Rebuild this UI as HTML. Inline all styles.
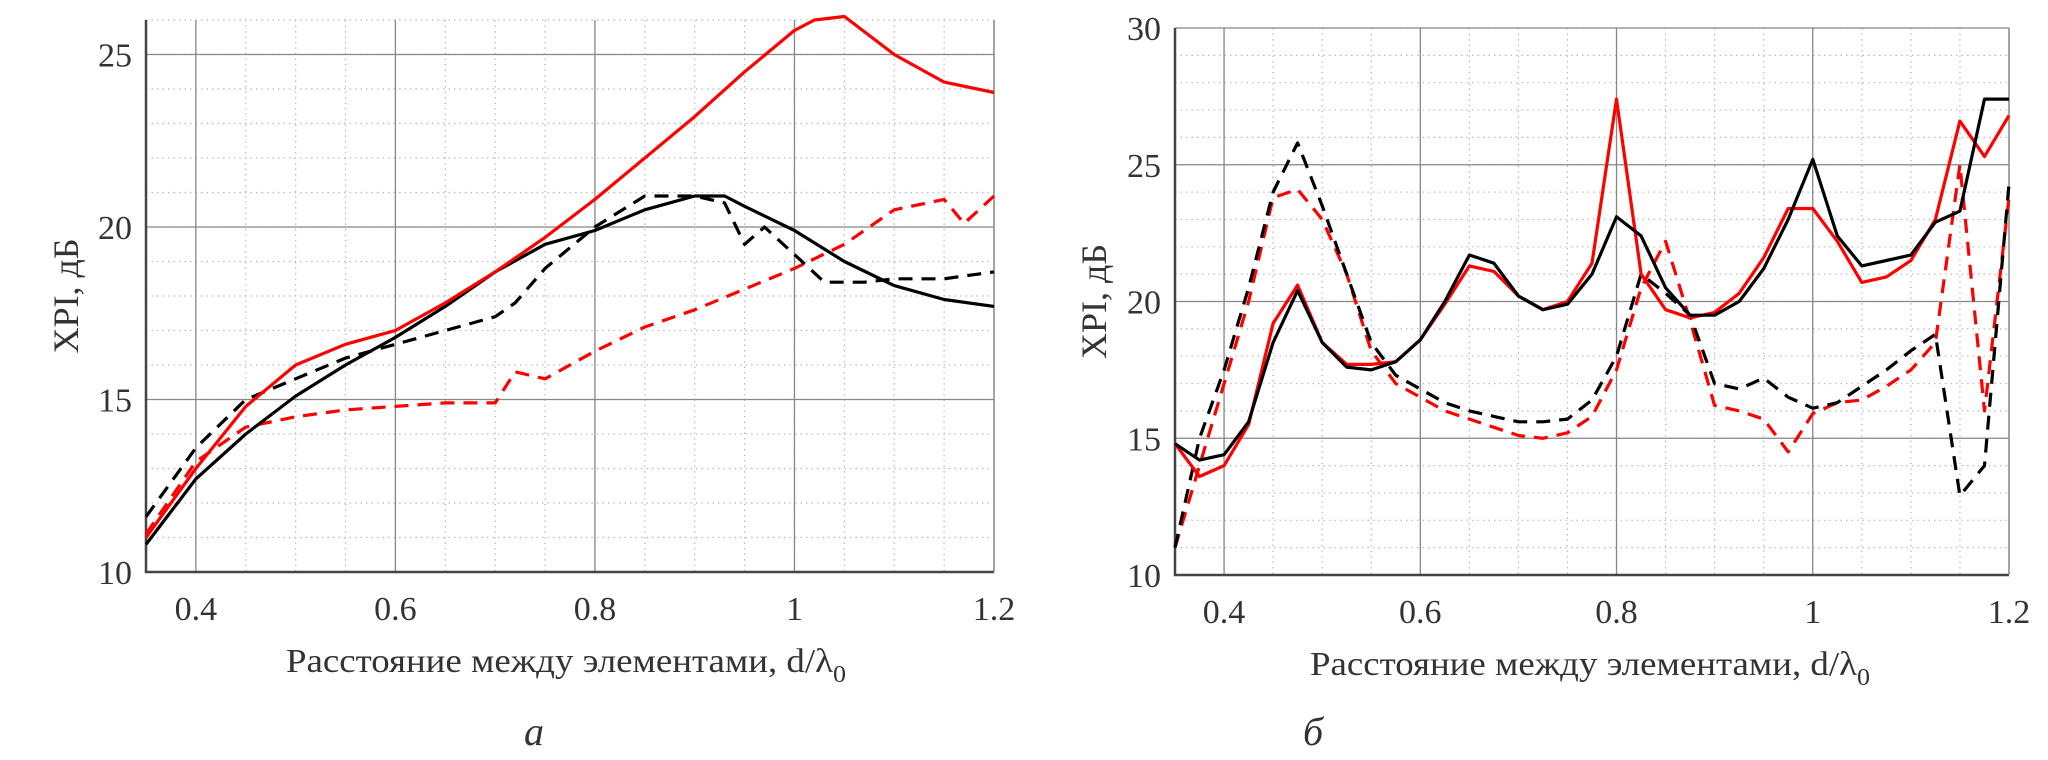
<!DOCTYPE html>
<html><head><meta charset="utf-8"><style>
html,body{margin:0;padding:0;background:#fff;width:2048px;height:760px;overflow:hidden}
svg{display:block}
text{font-family:"Liberation Serif",serif;fill:#333}
</style></head><body>
<svg id="fig" width="2048" height="760" viewBox="0 0 2048 760"></svg>
<script>
// ---- Chart A data ----
const aX_redSolid=[0.35,0.4,0.45,0.5,0.55,0.6,0.65,0.7,0.75,0.8,0.85,0.9,0.95,1.0,1.02,1.05,1.1,1.15,1.2];
const aY_redSolid=[11.0,13.0,14.8,16.0,16.6,17.0,17.8,18.7,19.7,20.8,22.0,23.2,24.5,25.7,26.0,26.1,25.0,24.2,23.9];
const aX_blackSolid=[0.35,0.4,0.45,0.5,0.55,0.6,0.65,0.7,0.75,0.8,0.85,0.9,0.93,0.95,1.0,1.05,1.1,1.15,1.2];
const aY_blackSolid=[10.8,12.7,14.0,15.1,16.0,16.8,17.7,18.7,19.5,19.9,20.5,20.9,20.9,20.6,19.9,19.0,18.3,17.9,17.7];
const aX_blackDash=[0.35,0.4,0.45,0.5,0.55,0.6,0.65,0.7,0.72,0.75,0.8,0.85,0.9,0.93,0.95,0.97,1.0,1.03,1.07,1.1,1.15,1.2];
const aY_blackDash=[11.6,13.6,15.0,15.6,16.2,16.6,17.0,17.4,17.8,18.8,20.0,20.9,20.9,20.7,19.5,20.0,19.2,18.4,18.4,18.5,18.5,18.7];
const aX_redDash=[0.35,0.4,0.45,0.5,0.55,0.6,0.65,0.7,0.72,0.75,0.8,0.85,0.9,0.95,1.0,1.05,1.1,1.15,1.17,1.2];
const aY_redDash=[11.1,13.2,14.2,14.5,14.7,14.8,14.9,14.9,15.8,15.6,16.4,17.1,17.6,18.2,18.8,19.5,20.5,20.8,20.1,20.9];
const aXTicks=["0.4","0.6","0.8","1","1.2"];
const aYTicks=["10","15","20","25"];
// ---- Chart B data ----
const bX=[0.35,0.375,0.4,0.425,0.45,0.475,0.5,0.525,0.55,0.575,0.6,0.625,0.65,0.675,0.7,0.725,0.75,0.775,0.8,0.825,0.85,0.875,0.9,0.925,0.95,0.975,1.0,1.025,1.05,1.075,1.1,1.125,1.15,1.175,1.2];
const bY_blackSolid=[14.8,14.2,14.4,15.6,18.5,20.4,18.5,17.6,17.5,17.8,18.6,20.0,21.7,21.4,20.2,19.7,19.9,21.0,23.1,22.4,20.5,19.5,19.5,20.0,21.2,23.0,25.2,22.4,21.3,21.5,21.7,22.9,23.3,27.4,27.4];
const bY_redSolid=[14.8,13.6,14.0,15.5,19.2,20.6,18.5,17.7,17.7,17.8,18.6,19.9,21.3,21.1,20.2,19.7,20.0,21.4,27.4,21.0,19.7,19.4,19.6,20.3,21.6,23.4,23.4,22.2,20.7,20.9,21.5,23.0,26.6,25.3,26.8];
const bY_blackDash=[11.0,15.0,17.5,20.5,24.0,25.8,23.5,21.0,18.5,17.3,16.8,16.3,16.0,15.8,15.6,15.6,15.7,16.4,18.0,21.0,20.3,19.5,17.0,16.8,17.2,16.5,16.1,16.3,16.9,17.5,18.2,18.8,12.9,14.0,24.3];
const bY_redDash=[11.0,14.0,17.0,20.0,23.8,24.1,23.0,21.0,18.2,17.0,16.5,16.0,15.7,15.4,15.1,15.0,15.2,15.8,17.5,20.5,22.2,19.3,16.2,16.0,15.7,14.5,15.9,16.3,16.4,16.9,17.5,18.5,25.0,16.0,23.8];
const bXTicks=["0.4","0.6","0.8","1","1.2"];
const bYTicks=["10","15","20","25","30"];

const NS="http://www.w3.org/2000/svg";
const svg=document.getElementById('fig');
function mk(tag,attrs,parent){const e=document.createElementNS(NS,tag);for(const k in attrs)e.setAttribute(k,attrs[k]);(parent||svg).appendChild(e);return e;}

function chart(cfg){
  const g=mk('g',{});
  
  
  const sx=v=>cfg.x0+(v-cfg.xmin)/(cfg.xmax-cfg.xmin)*(cfg.x1-cfg.x0);
  const sy=v=>cfg.y0-(v-cfg.ymin)/(cfg.ymax-cfg.ymin)*(cfg.y0-cfg.y1);
  // minor grid
  for(let v=0.35;v<=1.2001;v+=0.05){const x=sx(v);const l=mk('line',{x1:x,x2:x,y1:cfg.y1,y2:cfg.y0,stroke:'#bbb','stroke-width':1.2,'stroke-dasharray':'1.5 4'},g);
    }
  for(let v=cfg.ymin;v<=cfg.ymax+0.001;v+=1){const y=sy(v);const l=mk('line',{x1:cfg.x0,x2:cfg.x1,y1:y,y2:y,stroke:'#bbb','stroke-width':1.2,'stroke-dasharray':'1.5 4'},g);
    }
  // major grid + ticks
  cfg.xt.forEach(t=>{const x=sx(parseFloat(t));
    const l=mk('line',{x1:x,x2:x,y1:cfg.y1,y2:cfg.y0,stroke:'#888','stroke-width':1.3},g);
    
    const tx=mk('text',{x:x,y:cfg.y0+48,'text-anchor':'middle','font-size':34},g);tx.textContent=t;
    });
  cfg.yt.forEach(t=>{const y=sy(parseFloat(t));
    const l=mk('line',{x1:cfg.x0,x2:cfg.x1,y1:y,y2:y,stroke:'#888','stroke-width':1.3},g);
    
    const tx=mk('text',{x:cfg.x0-14,y:y+12,'text-anchor':'end','font-size':34},g);tx.textContent=t;
    });
  // axes
  const ax=mk('path',{d:`M${cfg.x0},${cfg.y1} V${cfg.y0} H${cfg.x1}`,fill:'none',stroke:'#444','stroke-width':2.5},g);
  
  const rb=mk('line',{x1:cfg.x1,x2:cfg.x1,y1:cfg.y1,y2:cfg.y0,stroke:'#888','stroke-width':1.3},g);
  
  // series
  cfg.series.forEach(s=>{
    const d=s.x.map((v,i)=>(i?'L':'M')+sx(v).toFixed(1)+','+sy(s.y[i]).toFixed(1)).join(' ');
    const p=mk('path',{d:d,fill:'none',stroke:s.c,'stroke-width':3.2,'stroke-linejoin':'round','stroke-dasharray':s.dash?'14 9':'none'},g);
    
  });
  // titles
  const xt=mk('text',{x:cfg.xtX,y:cfg.y0+100,'text-anchor':'middle','font-size':34,textLength:560,lengthAdjust:'spacingAndGlyphs'},g);
  xt.innerHTML='Расстояние между элементами, d/λ<tspan font-size="24" dy="10">0</tspan>';
  
  const yt=mk('text',{x:0,y:0,'text-anchor':'middle','font-size':36,transform:`translate(${cfg.ytX},${(cfg.y0+cfg.y1)/2}) rotate(-90)`},g);
  yt.textContent='XPI, дБ';
  
  const lb=mk('text',{x:cfg.lbX,y:745,'text-anchor':'middle','font-size':40,'font-style':'italic'},g);
  lb.textContent=cfg.label;
  
}
chart({name:'chart-a',x0:146,x1:994,y0:572,y1:20,xmin:0.35,xmax:1.2,ymin:10,ymax:26,xt:aXTicks,yt:aYTicks,xtX:566,ytX:78,lbX:534,label:'а',
  series:[{x:aX_redDash,y:aY_redDash,c:'#f00',dash:1,n:'red-dashed-line'},{x:aX_blackDash,y:aY_blackDash,c:'#000',dash:1,n:'black-dashed-line'},
  {x:aX_blackSolid,y:aY_blackSolid,c:'#000',dash:0,n:'black-solid-line'},{x:aX_redSolid,y:aY_redSolid,c:'#f00',dash:0,n:'red-solid-line'}]});
chart({name:'chart-b',x0:1175,x1:2009,y0:575,y1:28,xmin:0.35,xmax:1.2,ymin:10,ymax:30,xt:bXTicks,yt:bYTicks,xtX:1590,ytX:1106,lbX:1313,label:'б',
  series:[{x:bX,y:bY_redDash,c:'#f00',dash:1,n:'red-dashed-line'},{x:bX,y:bY_blackDash,c:'#000',dash:1,n:'black-dashed-line'},
  {x:bX,y:bY_redSolid,c:'#f00',dash:0,n:'red-solid-line'},{x:bX,y:bY_blackSolid,c:'#000',dash:0,n:'black-solid-line'}]});
</script>
</body></html>
